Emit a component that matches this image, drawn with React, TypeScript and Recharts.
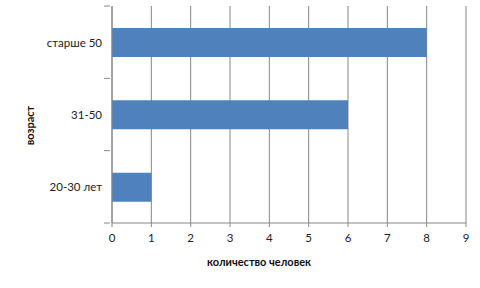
import React from "react";
import { BarChart, Bar, XAxis, YAxis, CartesianGrid, Label } from "recharts";

// age groups, top to bottom as in the picture
const categories = ["старше 50", "31-50", "20-30 лет"];
const counts = [8, 6, 1];
const xTicks = [0, 1, 2, 3, 4, 5, 6, 7, 8, 9];

const data = categories.map((name, i) => ({ name, value: counts[i] }));

const AXIS = "#868686";
const FONT = "Lato, 'Liberation Sans', sans-serif";

// category label plus small tick marks at band boundaries (Excel style)
const AgeTick = (props: any) => {
  const { x, y, payload, index } = props;
  const half = payload && payload.offset ? payload.offset : 36;
  return (
    <g>
      <line x1={x + 0} y1={y - half} x2={x + 6} y2={y - half} stroke={AXIS} />
      {index === categories.length - 1 && (
        <line x1={x + 0} y1={y + half} x2={x + 6} y2={y + half} stroke={AXIS} />
      )}
      <text
        x={x - 2}
        y={y}
        textAnchor="end"
        dominantBaseline="central"
        fontSize={11.5}
        fontFamily={FONT}
        fill="#222"
      >
        {payload.value}
      </text>
    </g>
  );
};

export default function App() {
  return (
    <div style={{ position: "fixed", left: 0, top: 0, width: 480, height: 288, background: "#fff" }}>
      <BarChart
        width={480}
        height={288}
        data={data}
        layout="vertical"
        margin={{ top: 6, right: 14, bottom: 35, left: 0 }}
        barCategoryGap="30%"
      >
        <CartesianGrid horizontal={false} vertical stroke={AXIS} strokeWidth={1} />
        <XAxis
          type="number"
          domain={[0, 9]}
          ticks={xTicks}
          interval={0}
          height={30}
          stroke={AXIS}
          tickSize={4}
          tick={{ fontSize: 11.5, fill: "#222", fontFamily: FONT, dy: 5 }}
        >
          <Label
            value="количество человек"
            position="bottom"
            offset={5}
            dx={-30}
            style={{ fontSize: 11, fontWeight: 700, fill: "#111", fontFamily: FONT }}
          />
        </XAxis>
        <YAxis
          type="category"
          dataKey="name"
          width={112}
          stroke={AXIS}
          tickLine={false}
          tick={<AgeTick />}
        >
          <Label
            value="возраст"
            angle={-90}
            position="insideLeft"
            offset={30}
            dy={11}
            style={{ fontSize: 11, fontWeight: 700, fill: "#111", fontFamily: FONT, textAnchor: "middle" }}
          />
        </YAxis>
        <Bar dataKey="value" fill="#4f81bd" barSize={29} isAnimationActive={false} />
      </BarChart>
    </div>
  );
}
